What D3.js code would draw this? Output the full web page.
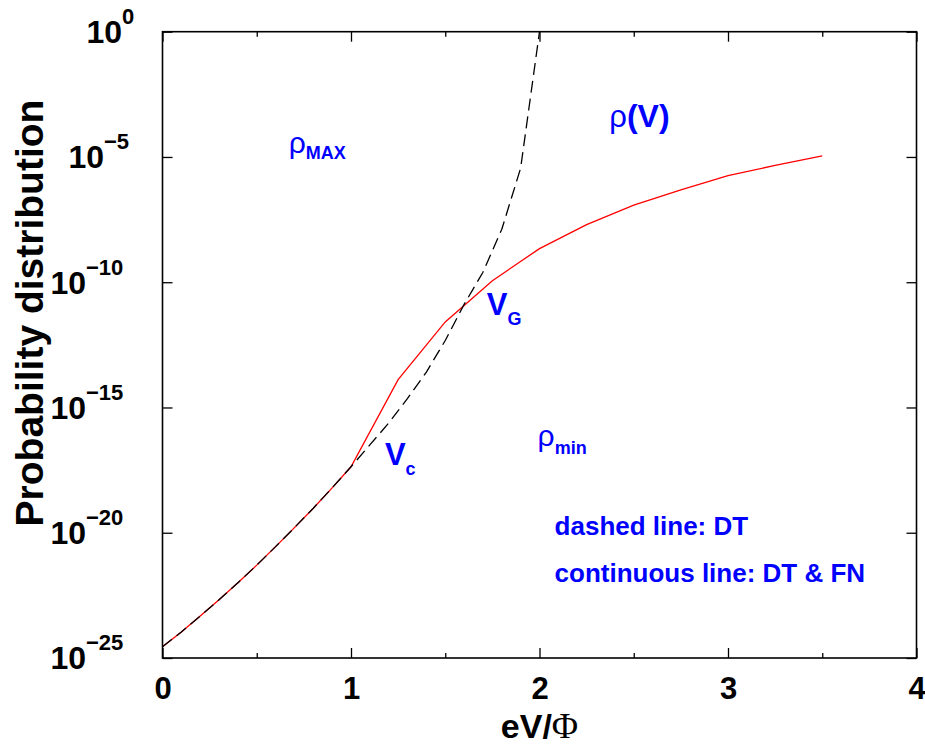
<!DOCTYPE html>
<html>
<head>
<meta charset="utf-8">
<script src="https://cdn.jsdelivr.net/npm/d3@7"></script>
<style>
  body { margin: 0; background: #fff; }
  svg { font-family: "Liberation Sans", Arial, sans-serif; }
</style>
</head>
<body>
<svg width="925" height="746"></svg>
<script>
// DT only (dashed)
var dtX = [0, 0.1, 0.2, 0.3, 0.4, 0.5, 0.6, 0.7, 0.8, 0.9, 1.0,
           1.1, 1.2, 1.3, 1.4, 1.5, 1.6, 1.7, 1.8, 1.9, 2.0];
var dtY = [2.8e-25, 1.1e-24, 4.7e-24, 2.1e-23, 1.0e-22, 5.1e-22, 2.8e-21, 1.6e-20, 9.5e-20, 6.2e-19, 4.3e-18,
           3.2e-17, 2.4e-16, 2.3e-15, 2.6e-14, 4.7e-13, 1.3e-11, 2.5e-10, 1.3e-8, 3.6e-6, 1];

// DT & FN (continuous)
var fnX = [0, 0.1, 0.2, 0.3, 0.4, 0.5, 0.6, 0.7, 0.8, 0.9, 1.0,
           1.25, 1.5, 1.75, 2.0, 2.25, 2.5, 2.75, 3.0, 3.25, 3.5];
var fnY = [2.8e-25, 1.1e-24, 4.7e-24, 2.1e-23, 1.0e-22, 5.1e-22, 2.8e-21, 1.6e-20, 9.5e-20, 6.2e-19, 4.3e-18,
           1.3e-14, 2.6e-12, 1.15e-10, 2.2e-9, 2.0e-8, 1.2e-7, 4.9e-7, 1.8e-6, 4.6e-6, 1.1e-5];

var xMajor = [0, 1, 2, 3, 4];
var xMinor = [0.5, 1.5, 2.5, 3.5];
var yMajor = [1e-25, 1e-20, 1e-15, 1e-10, 1e-5, 1];
var yExp = ['\u221225', '\u221220', '\u221215', '\u221210', '\u22125', '0'];

var svg = d3.select('svg');
var padLeft = 162.5, padTop = 31.7, width = 754, height = 626.3;
var g = svg.append('g').attr('transform', 'translate(' + padLeft + ',' + padTop + ')');

var x = d3.scaleLinear().domain([0, 4]).range([0, width]);
var y = d3.scaleLog().domain([1e-25, 1]).range([height, 0]);

var clip = svg.append('defs').append('clipPath').attr('id', 'plotclip');
clip.append('rect').attr('width', width).attr('height', height);

function styleAxis(sel) {
    sel.select('.domain').remove();
    sel.selectAll('.tick line').attr('stroke', '#000').attr('stroke-width', 1.3);
}

// ticks, all pointing inward
g.append('g').attr('transform', 'translate(0,' + height + ')')
    .call(d3.axisBottom(x).tickValues(xMajor).tickSize(-10).tickFormat(d3.format('d')).tickPadding(19))
    .call(styleAxis)
    .selectAll('text')
    .attr('font-size', 31).attr('font-weight', 'bold').attr('fill', '#000')
    .attr('font-family', '"Liberation Sans", Arial, sans-serif');
g.append('g').attr('transform', 'translate(0,' + height + ')')
    .call(d3.axisBottom(x).tickValues(xMinor).tickSize(-5).tickFormat(''))
    .call(styleAxis);
g.append('g')
    .call(d3.axisTop(x).tickValues(xMajor).tickSize(-10).tickFormat(''))
    .call(styleAxis);
g.append('g')
    .call(d3.axisTop(x).tickValues(xMinor).tickSize(-5).tickFormat(''))
    .call(styleAxis);
g.append('g')
    .call(d3.axisLeft(y).tickValues(yMajor).tickSize(-10).tickFormat(''))
    .call(styleAxis);
g.append('g').attr('transform', 'translate(' + width + ',0)')
    .call(d3.axisRight(y).tickValues(yMajor).tickSize(-10).tickFormat(''))
    .call(styleAxis);

// y tick labels 10^n
yMajor.forEach(function(v, i) {
    var e = yExp[i];
    var t = g.append('text')
        .attr('y', y(v) + 11.5)
        .attr('font-size', 32).attr('font-weight', 'bold');
    t.append('tspan').text('10');
    t.append('tspan').attr('dy', -19).attr('font-size', 22).text(e);
    var w = t.select('tspan').node().getComputedTextLength();
    t.attr('x', -40.5 - 18 * (e.length - 1) - w);
});

// lines
var line = d3.line().x(function(d) { return x(d[0]); }).y(function(d) { return y(d[1]); });
var fnData = fnX.map(function(v, i) { return [v, fnY[i]]; });
var dtData = dtX.map(function(v, i) { return [v, dtY[i]]; });

var plot = g.append('g').attr('clip-path', 'url(#plotclip)');
plot.append('path').datum(fnData)
    .attr('d', line).attr('fill', 'none').attr('stroke', '#ff0000').attr('stroke-width', 1.3);
plot.append('path').datum(dtData)
    .attr('d', line).attr('fill', 'none').attr('stroke', '#000').attr('stroke-width', 1.3)
    .attr('stroke-dasharray', '12,6');

// frame
g.append('rect').attr('width', width).attr('height', height)
    .attr('fill', 'none').attr('stroke', '#000').attr('stroke-width', 1.6);

// annotations (blue)
var blue = '#0000ff';
function rhoLabel(px, py, sub, rhoSize, subSize, dy) {
    var t = g.append('text').attr('x', px).attr('y', py).attr('fill', blue);
    t.append('tspan').attr('font-size', rhoSize).text('\u03c1');
    t.append('tspan').attr('font-size', subSize).attr('font-weight', 'bold').attr('dy', dy).text(sub);
}
rhoLabel(x(0.67), y(1.2e-5) - 2, 'MAX', 30, 18, 6);
rhoLabel(x(1.99), y(2.5e-17) - 2, 'min', 30, 18, 8);

var rv = g.append('text').attr('x', x(2.37)).attr('y', y(1.6e-4)).attr('fill', blue);
rv.append('tspan').attr('font-size', 31).text('\u03c1');
rv.append('tspan').attr('font-size', 32).attr('font-weight', 'bold').text('(V)');

function vLabel(px, py, sub) {
    var t = g.append('text').attr('x', px).attr('y', py).attr('fill', blue).attr('font-weight', 'bold');
    t.append('tspan').attr('font-size', 31).text('V');
    t.append('tspan').attr('font-size', 18).attr('dy', 10).text(sub);
}
vLabel(x(1.72), y(5e-12), 'G');
vLabel(x(1.18), y(5e-18), 'c');

g.append('text').attr('x', x(2.08)).attr('y', 535 - padTop)
    .attr('fill', blue).attr('font-size', 26).attr('font-weight', 'bold')
    .text('dashed line: DT');
g.append('text').attr('x', x(2.08)).attr('y', 582 - padTop)
    .attr('fill', blue).attr('font-size', 26).attr('font-weight', 'bold')
    .text('continuous line: DT & FN');

// axis titles
var xt = svg.append('text').attr('x', padLeft + width / 2).attr('y', 738)
    .attr('text-anchor', 'middle').attr('font-size', 34);
xt.append('tspan').attr('font-weight', 'bold').text('eV/');
xt.append('tspan').attr('font-family', '"Liberation Serif", serif').attr('font-size', 36).text('\u03a6');

svg.append('text')
    .attr('transform', 'translate(43,313) rotate(-90)')
    .attr('text-anchor', 'middle').attr('font-size', 39).attr('font-weight', 'bold')
    .text('Probability distribution');
</script>
</body>
</html>
